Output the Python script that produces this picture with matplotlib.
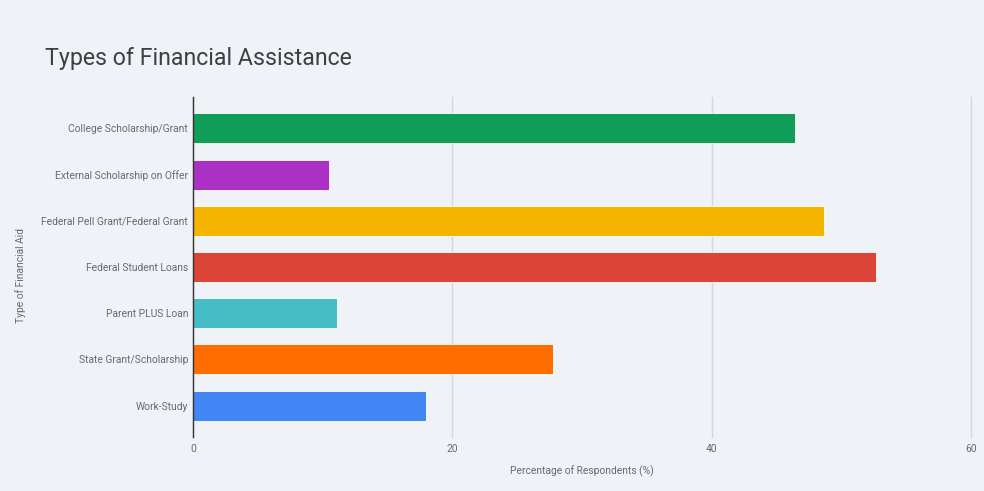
import matplotlib
matplotlib.use("Agg")
import matplotlib.pyplot as plt

categories = ["College Scholarship/Grant", "External Scholarship on Offer",
              "Federal Pell Grant/Federal Grant", "Federal Student Loans",
              "Parent PLUS Loan", "State Grant/Scholarship", "Work-Study"]
values = [46.4, 10.5, 48.7, 52.7, 11.1, 27.8, 18.0]
colors = ["#0f9d58", "#ab30c4", "#f4b400", "#db4437", "#46bdc6", "#ff6d01", "#4285f4"]
xticks = [0, 20, 40, 60]

bg = "#eff2f7"
plt.rcParams['font.family'] = ['Roboto', 'DejaVu Sans']

fig = plt.figure(figsize=(9.84, 4.91), dpi=100, facecolor=bg)
ax = fig.add_axes([193/984, 1-437/491, (971-193)/984, (437-97)/491], facecolor=bg)

ypos = list(range(len(categories)))
ax.barh(ypos, values, height=0.65, color=colors, edgecolor="white", linewidth=0.6, zorder=3)
ax.set_ylim(6.68, -0.68)
ax.set_xlim(0, 60)
ax.set_yticks(ypos)
ax.set_yticklabels(categories, fontsize=7.4, color="#666a70")
ax.set_xticks(xticks)
ax.set_xticklabels([str(t) for t in xticks], fontsize=7.4, color="#666a70")
ax.tick_params(length=0, pad=5)
ax.tick_params(axis='y', pad=3.5)
ax.grid(axis='x', color="#d3d6db", linewidth=1, zorder=0)
for gl in ax.get_xgridlines():
    gl.set_clip_on(False)
for s in ["top", "right", "bottom"]:
    ax.spines[s].set_visible(False)
ax.spines["left"].set_color("#333333")
ax.spines["left"].set_linewidth(1)
ax.spines["left"].set_zorder(4)

ax.set_xlabel("Percentage of Respondents (%)", fontsize=7.4, color="#666a70", labelpad=8)
ax.set_ylabel("Type of Financial Aid", fontsize=7.4, color="#666a70")
ax.yaxis.set_label_coords(-(193-26)/778, 0.476)

fig.text(45/984, 1-58/491, "Types of Financial Assistance", fontsize=16.7, color="#3c4043",
         va="center", ha="left")

fig.savefig("out.png", dpi=100, facecolor=bg)
